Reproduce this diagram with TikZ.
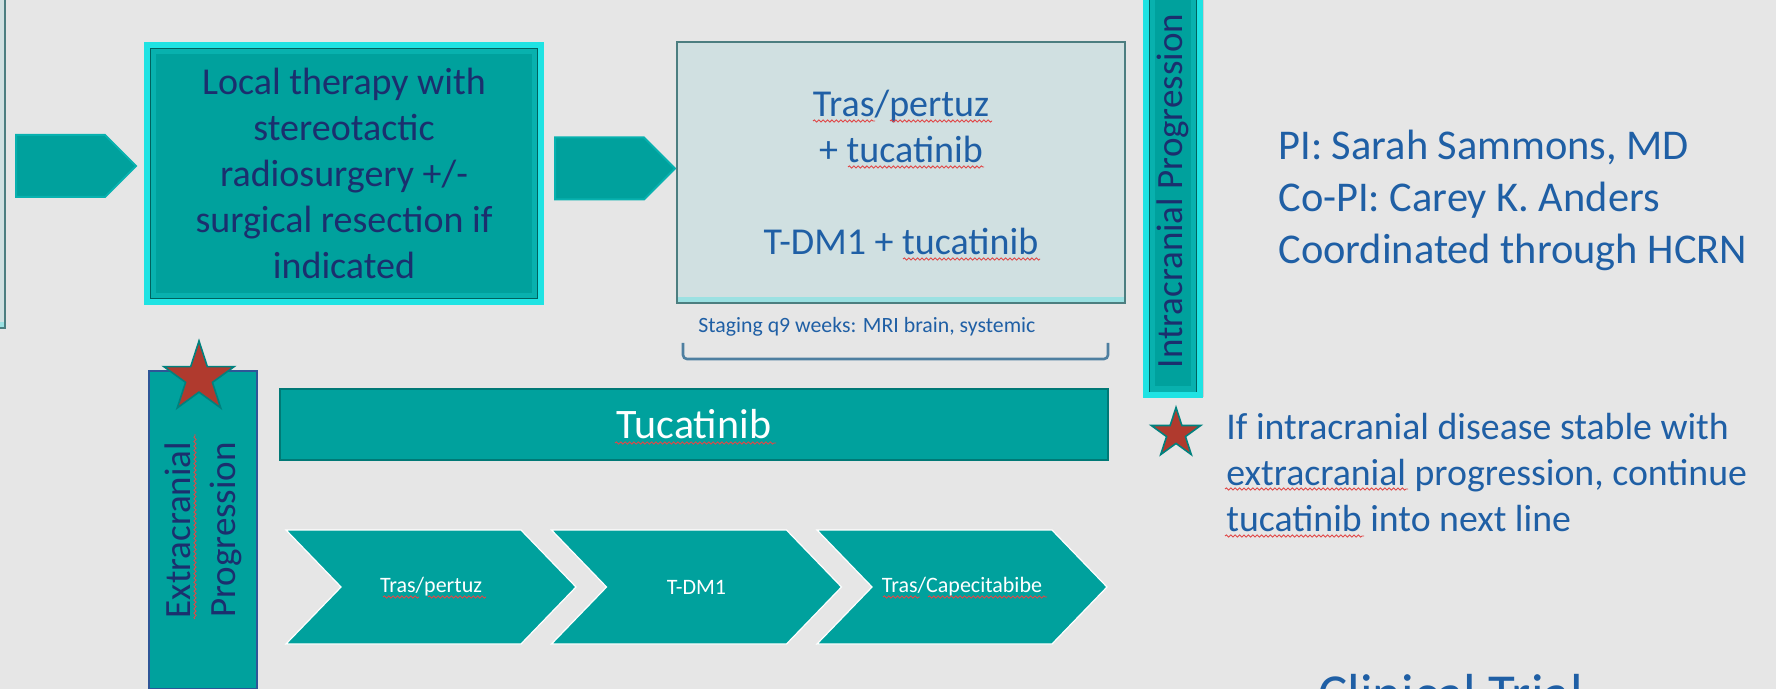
\documentclass[tikz,border=0pt]{standalone}
\usepackage{fontspec}
\setmainfont{Carlito}
\usepackage{tikz}
\usetikzlibrary{shapes.geometric, shapes.symbols, positioning, shadows, decorations.pathmorphing}

\definecolor{slidebg}{HTML}{E6E6E6}
\definecolor{tealfill}{HTML}{00A19D}
\definecolor{glowcyan}{HTML}{1FE3E3}
\definecolor{navytext}{HTML}{1B2F6E}
\definecolor{bluetext}{HTML}{1F5FA5}
\definecolor{palefill}{HTML}{D0E0E1}
\definecolor{paleedge}{HTML}{4C7E80}
\definecolor{starred}{HTML}{B03A2E}
\definecolor{bracketblue}{HTML}{4E7FA0}
\definecolor{extraedge}{HTML}{2E5597}
\definecolor{spellred}{HTML}{E04848}

\begin{document}
\begin{tikzpicture}[x=0.5pt, y=-0.5pt, every node/.style={align=center, inner sep=0pt},
    bevelbox/.style={fill=tealfill, draw=glowcyan, line width=3pt, text=navytext,
        path picture={
            \draw[tealfill!75!glowcyan, line width=9pt] (path picture bounding box.north west) rectangle (path picture bounding box.south east);
            \draw[tealfill!60!black, line width=0.4pt] ([shift={(1.6pt,-1.6pt)}]path picture bounding box.north west) rectangle ([shift={(-1.6pt,1.6pt)}]path picture bounding box.south east);}},
    palebox/.style={fill=palefill, draw=paleedge, line width=1pt, text=bluetext,
        path picture={
            \fill[glowcyan!30!palefill] (path picture bounding box.south west) rectangle ([yshift=3pt]path picture bounding box.south east);}},
    blockarrow/.style={signal, signal to=east, signal pointer angle=90, fill=tealfill, draw=tealfill!75!glowcyan, line width=1pt, minimum width=60pt, minimum height=31pt},
    chev/.style={signal, signal from=west, signal to=east, signal pointer angle=92, fill=tealfill, draw=white, line width=0.6pt, minimum width=145pt, minimum height=57pt, text=white, font=\fontsize{11}{13}\selectfont},
    redstar/.style={star, star points=5, star point ratio=2.618, fill=starred, draw=tealfill!80!black, line width=0.8pt},
    squiggle/.style={spellred, line width=0.45pt, decorate, decoration={snake, amplitude=0.55pt, segment length=2.2pt}}]

    \path[use as bounding box, fill=slidebg] (0,0) rectangle (1776,689);

    % top row
    \node[palebox, minimum width=45pt, minimum height=174pt] (prev) at ({-40},{154}) {};
    \node[blockarrow, anchor=west] (arr1) at ({15},{166}) {};
    \node[bevelbox, minimum width=197pt, minimum height=128.5pt, font=\fontsize{19}{23}\selectfont] (local) at ({344},{173.5})
        {Local therapy with\\stereotactic\\radiosurgery +/-\\surgical resection if\\indicated};
    \node[blockarrow, right=5pt of local, yshift=2.5pt] (arr2) {};
    \node[palebox, minimum width=224pt, minimum height=130.5pt, font=\fontsize{19}{23}\selectfont] (combo) at ({901},{172.5})
        {Tras/pertuz\\+ tucatinib\\[23pt]T-DM1 + tucatinib};
    \node[anchor=west, text=bluetext, font=\fontsize{10.9}{13}\selectfont] (staging) at ({698},{327}) {Staging q9 weeks: MRI brain, systemic};
    \draw[bracketblue, line width=1.3pt, rounded corners=2pt] ({683},{343}) -- ({683},{359}) -- ({1108},{359}) -- ({1108},{343});

    \node[bevelbox, rotate=90, minimum width=204pt, minimum height=27pt, font=\fontsize{18.5}{22}\selectfont,
        drop shadow={shadow xshift=2pt, shadow yshift=-1pt, opacity=0.25}] (intra) at ({1173},{191}) {Intracranial Progression};

    \node[anchor=north west, align=left, text=bluetext, font=\fontsize{21.2}{26}\selectfont] (pi) at ({1278},{130})
        {PI: Sarah Sammons, MD\\Co-PI: Carey K. Anders\\Coordinated through HCRN};

    % lower row
    \node[fill=tealfill, draw=extraedge, line width=0.8pt, rotate=90, minimum width=159pt, minimum height=54pt,
        text=navytext, font=\fontsize{18.5}{22.5}\selectfont] (extra) at ({203},{530}) {Extracranial\\Progression};
    \node[redstar, minimum size=37pt] (extrastar) at ({199},{378}) {};

    \node[fill=tealfill, draw=tealfill!75!black, line width=0.8pt, minimum width=414pt, minimum height=35.7pt,
        text=white, font=\fontsize{21}{25}\selectfont] (tuca) at ({694},{424.5}) {Tucatinib};

    \node[chev] (chev1) at ({431},{587}) {Tras/pertuz};
    \node[chev] (chev2) at ({696.5},{587}) {T-DM1};
    \node[chev] (chev3) at ({962},{587}) {Tras/Capecitabibe};

    \node[redstar, minimum size=26pt] (notestar) at ({1176},{433.5}) {};
    \node[anchor=north west, align=left, text=bluetext, font=\fontsize{18.9}{23}\selectfont] (note) at ({1226},{413})
        {If intracranial disease stable with\\extracranial progression, continue\\tucatinib into next line};

    \node[anchor=north west, text=bluetext, font=\fontsize{27.5}{32}\selectfont] (trial) at ({1318},{674}) {Clinical Trial};

    % spell-check marks
    \draw[squiggle] ({813},{121}) -- ({875},{121});
    \draw[squiggle] ({890},{121}) -- ({992},{121});
    \draw[squiggle] ({848},{167}) -- ({984},{167});
    \draw[squiggle] ({903},{259}) -- ({1040},{259});
    \draw[squiggle] ({615},{443}) -- ({776},{443});
    \draw[squiggle] ({383},{597}) -- ({419},{597});
    \draw[squiggle] ({428},{597}) -- ({486},{597});
    \draw[squiggle] ({883},{597}) -- ({920},{597});
    \draw[squiggle] ({928},{597}) -- ({1047},{597});
    \draw[squiggle] ({1225},{489}) -- ({1408},{489});
    \draw[squiggle] ({1225},{536}) -- ({1364},{536});
    \draw[squiggle] ({195},{619}) -- ({195},{434});
\end{tikzpicture}
\end{document}
